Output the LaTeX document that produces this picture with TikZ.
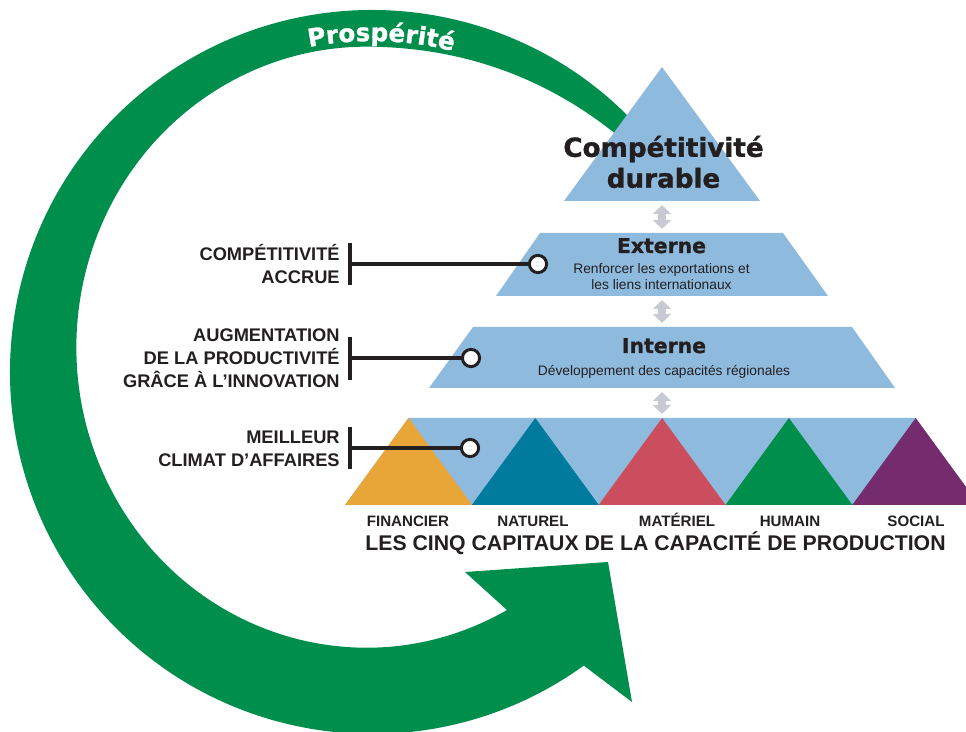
\documentclass[tikz,border=0pt]{standalone}
\usepackage{fontspec}
\setmainfont{Liberation Sans}
\newfontfamily\heavyfont{DejaVu Sans}[BoldFeatures={FakeBold=1.2}]
\usetikzlibrary{positioning,arrows.meta,decorations.text}

\definecolor{ringgreen}{RGB}{0,142,76}
\definecolor{pyrblue}{RGB}{142,186,222}
\definecolor{arrowgray}{RGB}{200,202,211}
\definecolor{inkblack}{RGB}{35,31,32}
\definecolor{capfin}{RGB}{232,165,56}
\definecolor{capnat}{RGB}{0,123,157}
\definecolor{capmat}{RGB}{203,78,95}
\definecolor{caphum}{RGB}{0,142,76}
\definecolor{capsoc}{RGB}{116,44,110}

\begin{document}
\begin{tikzpicture}[x=0.02cm,y=-0.02cm,
  tier/.style={fill=pyrblue},
  peak/.style={inner sep=0pt,align=center,text=inkblack,font=\heavyfont\bfseries\fontsize{14.9}{17.6}\selectfont},
  heading/.style={anchor=base,inner sep=0pt,text=inkblack,font=\heavyfont\bfseries\fontsize{11.6}{14}\selectfont},
  blurb/.style={inner sep=0pt,align=center,text=inkblack,font=\fontsize{7.85}{9}\selectfont},
  goal/.style={anchor=east,align=right,inner sep=0pt,text=inkblack,font=\bfseries\fontsize{10.4}{13}\selectfont},
  capname/.style={anchor=base,inner sep=0pt,text=inkblack,font=\bfseries\fontsize{8.6}{10}\selectfont},
  bar/.style={inkblack,line width=2.8pt},
  link/.style={inkblack,line width=2.2pt},
  dot/.style={circle,draw=inkblack,fill=white,line width=1.7pt,minimum size=9.8pt,inner sep=0pt},
  updown/.style={arrowgray,line width=4.5pt,shorten <=2.3pt,shorten >=2.3pt,
    {Triangle[width=10.2pt,length=5.1pt]}-{Triangle[width=10.2pt,length=5.1pt]}}]

\useasboundingbox (0,0) rectangle (966,732);
\clip (0,0) rectangle (966,732);

% prosperity spiral, ends in the arrow head at the bottom
\fill[ringgreen] (649.3,139.3) arc[start angle=-40,end angle=-305.8,radius=362]
  -- (632,702) -- (608,562) -- (465,572) -- (507,610)
  arc[start angle=61,end angle=270,x radius=290,y radius=300.5]
  .. controls (480,47) and (570,90) .. (640,155) -- cycle;
\path[decorate,decoration={text along path,text align=center,
  text={|\heavyfont\bfseries\fontsize{14}{16}\selectfont\color{white}|Prospérité}}]
  (258.8,61) arc[start angle=-110,end angle=-66.8,radius=331];

% pyramid
\fill[tier] (662,67) -- (760,201) -- (564,201) -- cycle;
\fill[tier] (540,233) -- (783,233) -- (828,296) -- (496,296) -- cycle;
\fill[tier] (473,327) -- (852,327) -- (895,388) -- (429,388) -- cycle;
\fill[tier] (408.5,418) -- (915.5,418) -- (979,505) -- (345,505) -- cycle;
\foreach \col [count=\k from 0] in {capfin,capnat,capmat,caphum,capsoc}
  \fill[\col] (345+126.8*\k,505) -- ++(63.5,-87) -- ++(63.5,87) -- cycle;

\coordinate (peak-base) at (662,201);
\coordinate (ext-top) at (662,233);
\coordinate (ext-base) at (662,296);
\coordinate (int-top) at (662,327);
\coordinate (int-base) at (662,388);
\coordinate (cap-top) at (662,418);
\draw[updown] (peak-base) -- (ext-top);
\draw[updown] (ext-base) -- (int-top);
\draw[updown] (int-base) -- (cap-top);

\node[peak] (durable) at (663.5,162) {Compétitivité\\durable};
\node[heading] (externe) at (661.5,253) {Externe};
\node[blurb,below=5.7pt of externe] (export) {Renforcer les exportations et\\les liens internationaux};
\node[heading] (interne) at (664,353) {Interne};
\node[blurb,below=6.3pt of interne] (regions) {Développement des capacités régionales};

% outcomes on the left
\node[goal] (accrue) at (340,264) {COMPÉTITIVITÉ\\ACCRUE};
\node[goal] (innov) at (340,358) {AUGMENTATION\\DE LA PRODUCTIVITÉ\\GRÂCE À L’INNOVATION};
\node[goal] (climat) at (340,449) {MEILLEUR\\CLIMAT D’AFFAIRES};
\node[dot] (dot1) at (538,264) {};
\node[dot] (dot2) at (471,358) {};
\node[dot] (dot3) at (470,448) {};
\coordinate (bar1) at (350,264);
\coordinate (bar2) at (350,358);
\coordinate (bar3) at (350,448);
\draw[bar] (350,243) -- (350,285);
\draw[bar] (350,337) -- (350,380);
\draw[bar] (350,427) -- (350,469);
\draw[link] (bar1) -- (dot1);
\draw[link] (bar2) -- (dot2);
\draw[link] (bar3) -- (dot3);

% the five capitals
\node[capname] (fin) at (408,526) {FINANCIER};
\node[capname] (nat) at (533,526) {NATUREL};
\node[capname] (mat) at (677,526) {MATÉRIEL};
\node[capname] (hum) at (790,526) {HUMAIN};
\node[capname] (soc) at (916,526) {SOCIAL};
\node[capname,font=\bfseries\fontsize{12.1}{14}\selectfont] (cinq) at (655.5,550) {LES CINQ CAPITAUX DE LA CAPACITÉ DE PRODUCTION};

\end{tikzpicture}
\end{document}
